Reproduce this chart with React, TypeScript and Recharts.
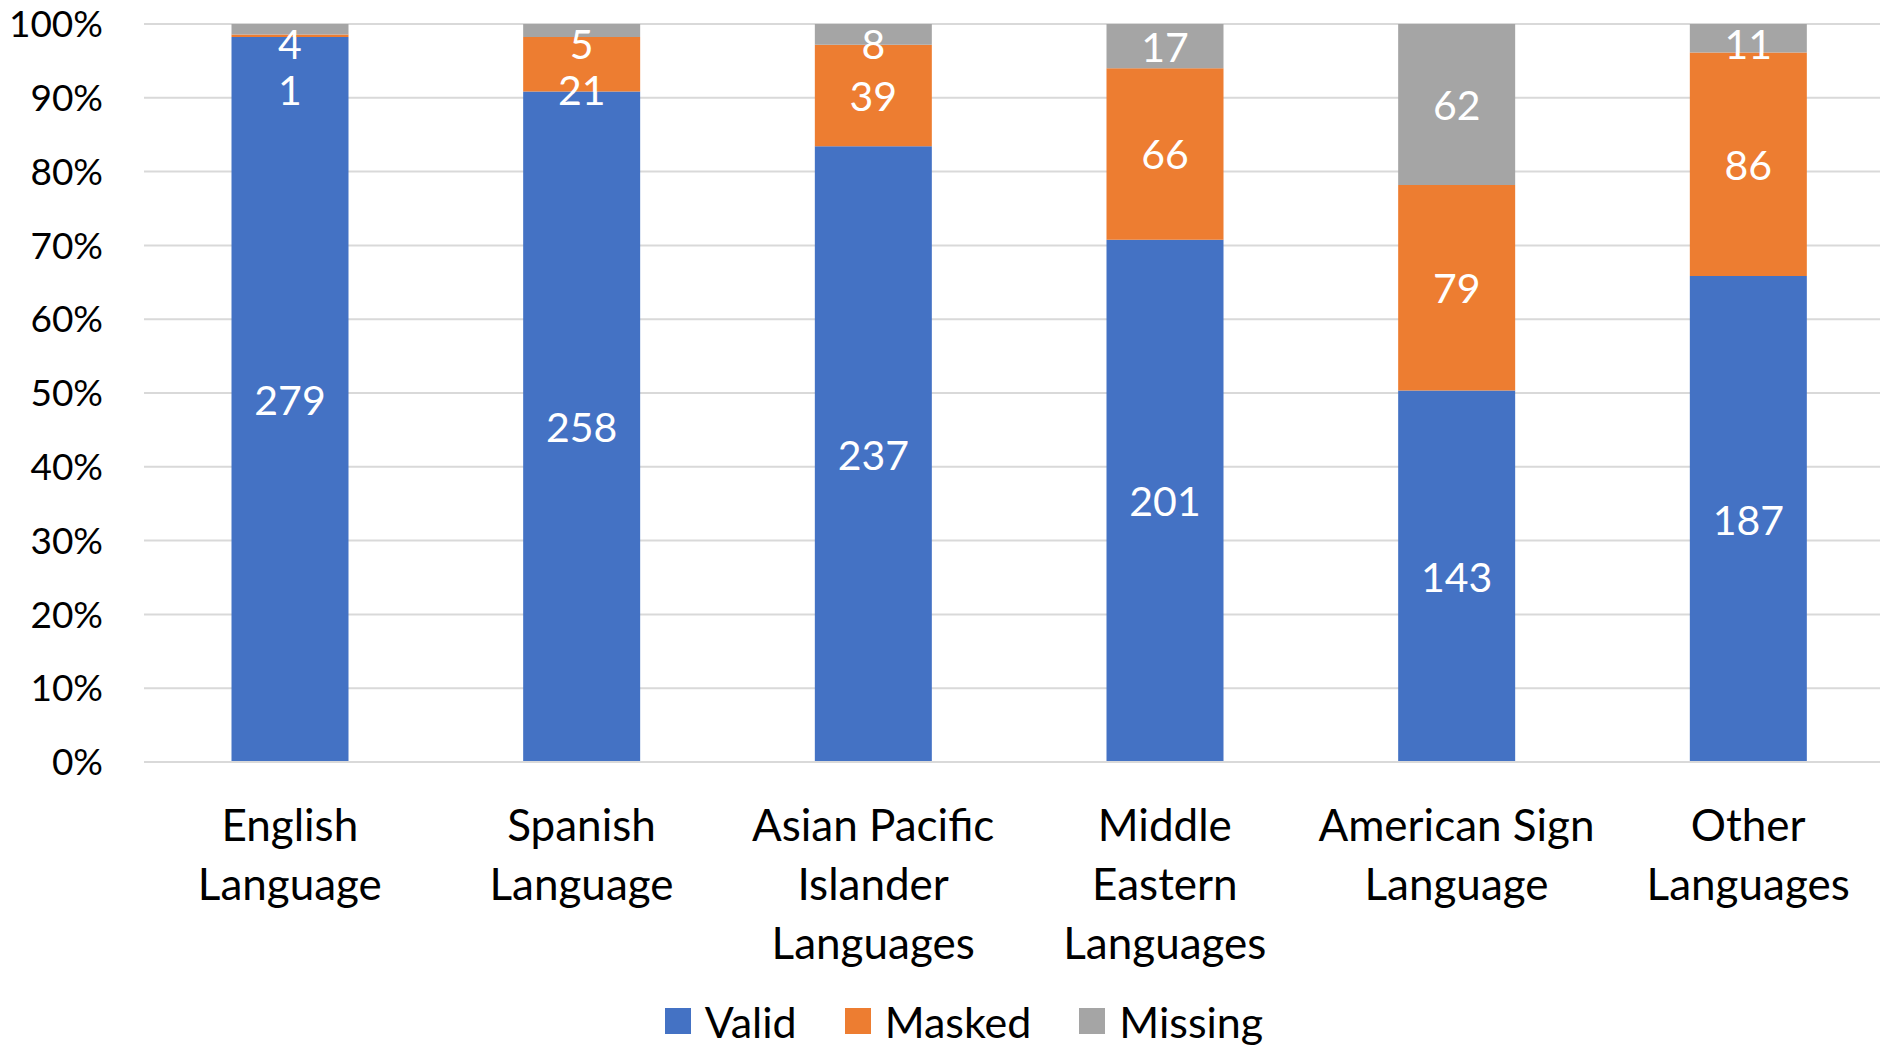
import { BarChart, Bar, XAxis, YAxis, CartesianGrid, Legend, LabelList } from 'recharts';

const categories = [
  'English Language',
  'Spanish Language',
  'Asian Pacific Islander Languages',
  'Middle Eastern Languages',
  'American Sign Language',
  'Other Languages',
];
const valid = [279, 258, 237, 201, 143, 187];
const masked = [1, 21, 39, 66, 79, 86];
const missing = [4, 5, 8, 17, 62, 11];
const yTicks = [0, 0.1, 0.2, 0.3, 0.4, 0.5, 0.6, 0.7, 0.8, 0.9, 1];

const series = [
  { key: 'valid', name: 'Valid', color: '#4472C4' },
  { key: 'masked', name: 'Masked', color: '#ED7D31' },
  { key: 'missing', name: 'Missing', color: '#A5A5A5' },
];

const rows = categories.map((name, i) => ({
  name,
  valid: valid[i],
  masked: masked[i],
  missing: missing[i],
}));

const FONT = 'Lato, "Open Sans", sans-serif';
const PLOT_TOP = 24;
const TOP_PAD = 19;
const LABEL_GAP = 46;

// word wrap on a character budget, like the excel category labels
function wrap(text: string, max = 13) {
  const out: string[] = [];
  let line = '';
  for (const w of text.split(' ')) {
    const next = line ? line + ' ' + w : w;
    if (next.length > max && line) {
      out.push(line);
      line = w;
    } else line = next;
  }
  if (line) out.push(line);
  return out;
}

function CategoryTick(props: any) {
  const { x, y, payload } = props;
  const lines = wrap(payload.value);
  return (
    <text x={x} y={y} textAnchor="middle" fill="#000" fontSize={44} fontFamily={FONT}>
      {lines.map((l, i) => (
        <tspan key={i} x={x} dy={i === 0 ? 79 : 59}>
          {l}
        </tspan>
      ))}
    </text>
  );
}

// keep small top labels inside the plot and out of each other's way
function makeLabel(kind: string) {
  return (props: any) => {
    const { x, y, width, height, value } = props;
    if (value == null) return null;
    const mid = y + height / 2;
    let cy = mid;
    if (kind === 'missing') {
      cy = Math.max(mid, PLOT_TOP + TOP_PAD);
    } else if (kind === 'masked') {
      const above = Math.max((PLOT_TOP + y) / 2, PLOT_TOP + TOP_PAD);
      cy = Math.max(mid, above + LABEL_GAP);
    }
    return (
      <text
        x={x + width / 2}
        y={cy}
        textAnchor="middle"
        dominantBaseline="central"
        fill="#fff"
        fontSize={41}
        fontFamily={FONT}
      >
        {value}
      </text>
    );
  };
}

function LegendBox() {
  return (
    <div
      style={{
        display: 'flex',
        justifyContent: 'center',
        alignItems: 'center',
        height: 48,
        paddingLeft: 48,
        fontFamily: FONT,
        fontSize: 43,
        color: '#000',
      }}
    >
      {series.map((s, i) => (
        <div key={s.key} style={{ display: 'flex', alignItems: 'center', marginLeft: i ? 48 : 0 }}>
          <span style={{ width: 26, height: 26, background: s.color, marginRight: 14 }} />
          <span>{s.name}</span>
        </div>
      ))}
    </div>
  );
}

export default function App() {
  return (
    <div
      style={{
        position: 'absolute',
        left: 0,
        top: 0,
        width: 1880,
        height: 1045,
        overflow: 'hidden',
        background: '#fff',
      }}
    >
      <BarChart
        width={1894}
        height={1045}
        data={rows}
        stackOffset="expand"
        barCategoryGap="30%"
        margin={{ top: PLOT_TOP, right: 0, left: 0, bottom: 0 }}
      >
        <CartesianGrid vertical={false} stroke="#d9d9d9" strokeWidth={2} />
        <XAxis
          dataKey="name"
          interval={0}
          height={235}
          tickLine={false}
          tickSize={0}
          tickMargin={0}
          axisLine={{ stroke: '#d9d9d9', strokeWidth: 2 }}
          tick={<CategoryTick />}
        />
        <YAxis
          width={144}
          ticks={yTicks}
          domain={[0, 1]}
          tickFormatter={(v: number) => `${Math.round(v * 100)}%`}
          axisLine={false}
          tickLine={false}
          tickSize={0}
          tickMargin={41}
          tick={{ fill: '#000', fontSize: 37, fontFamily: FONT }}
        />
        <Legend verticalAlign="bottom" content={<LegendBox />} wrapperStyle={{ bottom: 0, left: 0, width: 1880 }} />
        {series.map((s) => (
          <Bar key={s.key} dataKey={s.key} name={s.name} stackId="a" fill={s.color} isAnimationActive={false}>
            <LabelList dataKey={s.key} content={makeLabel(s.key)} />
          </Bar>
        ))}
      </BarChart>
    </div>
  );
}
